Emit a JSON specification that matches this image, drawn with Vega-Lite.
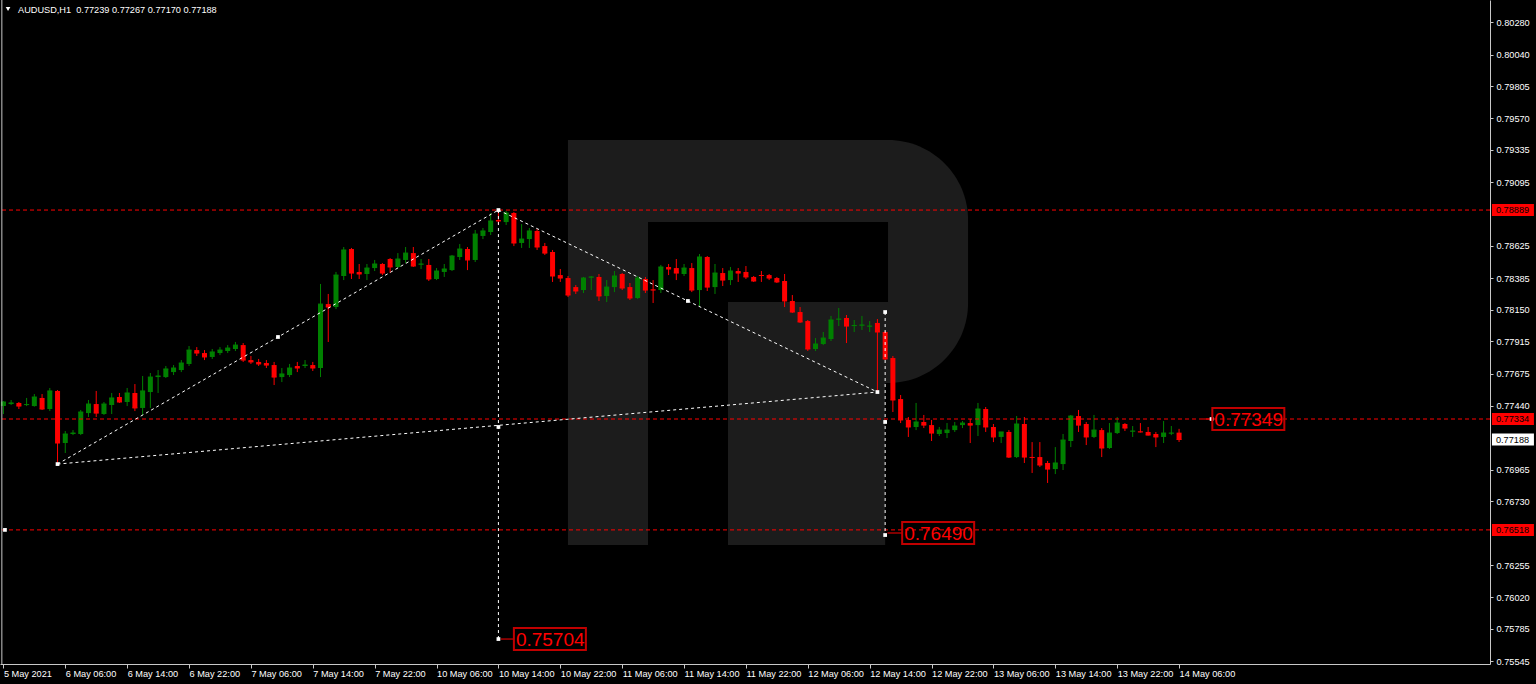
{
"$schema": "https://vega.github.io/schema/vega-lite/v6.json",
"width": 1490, "height": 664,
"autosize": {"type": "none"},
"padding": {"left": 0, "top": 0, "right": 46, "bottom": 20},
"background": "#000000",
"config": {"view": {"stroke": null}, "axis": {"grid": false}},
"resolve": {"axis": {"x": "independent", "y": "independent"}},
"datasets": {
"candles": [
{"i":0,"o":0.77436,"h":0.77473,"l":0.77377,"c":0.77466},
{"i":1,"o":0.77451,"h":0.77481,"l":0.77444,"c":0.77459},
{"i":2,"o":0.77459,"h":0.77466,"l":0.77414,"c":0.77436},
{"i":3,"o":0.77444,"h":0.77496,"l":0.77436,"c":0.77447},
{"i":4,"o":0.77436,"h":0.77525,"l":0.77432,"c":0.77503},
{"i":5,"o":0.77496,"h":0.77525,"l":0.77407,"c":0.77414},
{"i":6,"o":0.77414,"h":0.77570,"l":0.77399,"c":0.77548},
{"i":7,"o":0.77548,"h":0.77555,"l":0.77006,"c":0.77162},
{"i":8,"o":0.77162,"h":0.77251,"l":0.77088,"c":0.77229},
{"i":9,"o":0.77229,"h":0.77258,"l":0.77221,"c":0.77236},
{"i":10,"o":0.77229,"h":0.77407,"l":0.77221,"c":0.77392},
{"i":11,"o":0.77384,"h":0.77481,"l":0.77355,"c":0.77451},
{"i":12,"o":0.77451,"h":0.77548,"l":0.77355,"c":0.77384},
{"i":13,"o":0.77377,"h":0.77466,"l":0.77370,"c":0.77451},
{"i":14,"o":0.77444,"h":0.77533,"l":0.77377,"c":0.77496},
{"i":15,"o":0.77503,"h":0.77533,"l":0.77459,"c":0.77466},
{"i":16,"o":0.77466,"h":0.77570,"l":0.77436,"c":0.77533},
{"i":17,"o":0.77533,"h":0.77599,"l":0.77399,"c":0.77422},
{"i":18,"o":0.77422,"h":0.77659,"l":0.77370,"c":0.77548},
{"i":19,"o":0.77540,"h":0.77681,"l":0.77422,"c":0.77651},
{"i":20,"o":0.77651,"h":0.77703,"l":0.77533,"c":0.77659},
{"i":21,"o":0.77651,"h":0.77733,"l":0.77644,"c":0.77711},
{"i":22,"o":0.77688,"h":0.77740,"l":0.77666,"c":0.77718},
{"i":23,"o":0.77703,"h":0.77777,"l":0.77688,"c":0.77755},
{"i":24,"o":0.77748,"h":0.77881,"l":0.77733,"c":0.77851},
{"i":25,"o":0.77851,"h":0.77873,"l":0.77807,"c":0.77829},
{"i":26,"o":0.77829,"h":0.77851,"l":0.77777,"c":0.77800},
{"i":27,"o":0.77800,"h":0.77859,"l":0.77785,"c":0.77837},
{"i":28,"o":0.77829,"h":0.77873,"l":0.77814,"c":0.77851},
{"i":29,"o":0.77844,"h":0.77888,"l":0.77829,"c":0.77866},
{"i":30,"o":0.77859,"h":0.77911,"l":0.77844,"c":0.77888},
{"i":31,"o":0.77888,"h":0.77903,"l":0.77763,"c":0.77777},
{"i":32,"o":0.77777,"h":0.77807,"l":0.77748,"c":0.77763},
{"i":33,"o":0.77763,"h":0.77785,"l":0.77733,"c":0.77748},
{"i":34,"o":0.77755,"h":0.77777,"l":0.77718,"c":0.77740},
{"i":35,"o":0.77740,"h":0.77763,"l":0.77592,"c":0.77651},
{"i":36,"o":0.77651,"h":0.77718,"l":0.77614,"c":0.77674},
{"i":37,"o":0.77666,"h":0.77748,"l":0.77651,"c":0.77718},
{"i":38,"o":0.77733,"h":0.77763,"l":0.77688,"c":0.77718},
{"i":39,"o":0.77733,"h":0.77777,"l":0.77718,"c":0.77740},
{"i":40,"o":0.77740,"h":0.77763,"l":0.77696,"c":0.77718},
{"i":41,"o":0.77718,"h":0.78341,"l":0.77651,"c":0.78192},
{"i":42,"o":0.78192,"h":0.78267,"l":0.77911,"c":0.78170},
{"i":43,"o":0.78170,"h":0.78430,"l":0.78155,"c":0.78407},
{"i":44,"o":0.78400,"h":0.78615,"l":0.78370,"c":0.78593},
{"i":45,"o":0.78600,"h":0.78608,"l":0.78378,"c":0.78422},
{"i":46,"o":0.78430,"h":0.78489,"l":0.78378,"c":0.78415},
{"i":47,"o":0.78415,"h":0.78489,"l":0.78370,"c":0.78459},
{"i":48,"o":0.78459,"h":0.78519,"l":0.78437,"c":0.78489},
{"i":49,"o":0.78489,"h":0.78496,"l":0.78407,"c":0.78422},
{"i":50,"o":0.78526,"h":0.78533,"l":0.78422,"c":0.78467},
{"i":51,"o":0.78467,"h":0.78570,"l":0.78459,"c":0.78526},
{"i":52,"o":0.78519,"h":0.78615,"l":0.78496,"c":0.78570},
{"i":53,"o":0.78570,"h":0.78615,"l":0.78467,"c":0.78474},
{"i":54,"o":0.78485,"h":0.78526,"l":0.78452,"c":0.78489},
{"i":55,"o":0.78482,"h":0.78526,"l":0.78363,"c":0.78378},
{"i":56,"o":0.78378,"h":0.78459,"l":0.78370,"c":0.78437},
{"i":57,"o":0.78430,"h":0.78489,"l":0.78393,"c":0.78452},
{"i":58,"o":0.78444,"h":0.78556,"l":0.78437,"c":0.78548},
{"i":59,"o":0.78541,"h":0.78637,"l":0.78519,"c":0.78600},
{"i":60,"o":0.78600,"h":0.78615,"l":0.78444,"c":0.78519},
{"i":61,"o":0.78519,"h":0.78741,"l":0.78504,"c":0.78711},
{"i":62,"o":0.78697,"h":0.78756,"l":0.78674,"c":0.78734},
{"i":63,"o":0.78726,"h":0.78867,"l":0.78704,"c":0.78808},
{"i":64,"o":0.78815,"h":0.78889,"l":0.78785,"c":0.78808},
{"i":65,"o":0.78800,"h":0.78882,"l":0.78778,"c":0.78867},
{"i":66,"o":0.78867,"h":0.78874,"l":0.78622,"c":0.78645},
{"i":67,"o":0.78645,"h":0.78785,"l":0.78608,"c":0.78674},
{"i":68,"o":0.78674,"h":0.78756,"l":0.78608,"c":0.78734},
{"i":69,"o":0.78734,"h":0.78748,"l":0.78593,"c":0.78615},
{"i":70,"o":0.78622,"h":0.78645,"l":0.78556,"c":0.78570},
{"i":71,"o":0.78578,"h":0.78593,"l":0.78356,"c":0.78400},
{"i":72,"o":0.78407,"h":0.78452,"l":0.78356,"c":0.78385},
{"i":73,"o":0.78385,"h":0.78400,"l":0.78244,"c":0.78259},
{"i":74,"o":0.78318,"h":0.78333,"l":0.78267,"c":0.78289},
{"i":75,"o":0.78296,"h":0.78393,"l":0.78274,"c":0.78385},
{"i":76,"o":0.78389,"h":0.78400,"l":0.78296,"c":0.78393},
{"i":77,"o":0.78393,"h":0.78415,"l":0.78215,"c":0.78252},
{"i":78,"o":0.78252,"h":0.78370,"l":0.78207,"c":0.78318},
{"i":79,"o":0.78318,"h":0.78437,"l":0.78281,"c":0.78400},
{"i":80,"o":0.78415,"h":0.78422,"l":0.78296,"c":0.78311},
{"i":81,"o":0.78318,"h":0.78348,"l":0.78222,"c":0.78237},
{"i":82,"o":0.78237,"h":0.78400,"l":0.78230,"c":0.78385},
{"i":83,"o":0.78378,"h":0.78393,"l":0.78274,"c":0.78296},
{"i":84,"o":0.78300,"h":0.78370,"l":0.78200,"c":0.78296},
{"i":85,"o":0.78296,"h":0.78482,"l":0.78274,"c":0.78467},
{"i":86,"o":0.78467,"h":0.78489,"l":0.78407,"c":0.78452},
{"i":87,"o":0.78459,"h":0.78526,"l":0.78370,"c":0.78422},
{"i":88,"o":0.78415,"h":0.78489,"l":0.78400,"c":0.78459},
{"i":89,"o":0.78459,"h":0.78496,"l":0.78281,"c":0.78296},
{"i":90,"o":0.78296,"h":0.78563,"l":0.78178,"c":0.78541},
{"i":91,"o":0.78541,"h":0.78548,"l":0.78289,"c":0.78318},
{"i":92,"o":0.78318,"h":0.78489,"l":0.78267,"c":0.78422},
{"i":93,"o":0.78422,"h":0.78459,"l":0.78326,"c":0.78370},
{"i":94,"o":0.78370,"h":0.78467,"l":0.78333,"c":0.78437},
{"i":95,"o":0.78437,"h":0.78459,"l":0.78356,"c":0.78422},
{"i":96,"o":0.78430,"h":0.78474,"l":0.78378,"c":0.78393},
{"i":97,"o":0.78393,"h":0.78400,"l":0.78356,"c":0.78363},
{"i":98,"o":0.78407,"h":0.78437,"l":0.78356,"c":0.78404},
{"i":99,"o":0.78407,"h":0.78415,"l":0.78370,"c":0.78385},
{"i":100,"o":0.78385,"h":0.78393,"l":0.78348,"c":0.78356},
{"i":101,"o":0.78363,"h":0.78415,"l":0.78170,"c":0.78215},
{"i":102,"o":0.78215,"h":0.78259,"l":0.78126,"c":0.78133},
{"i":103,"o":0.78133,"h":0.78170,"l":0.78052,"c":0.78059},
{"i":104,"o":0.78066,"h":0.78074,"l":0.77844,"c":0.77859},
{"i":105,"o":0.77859,"h":0.77940,"l":0.77844,"c":0.77896},
{"i":106,"o":0.77896,"h":0.77985,"l":0.77888,"c":0.77940},
{"i":107,"o":0.77933,"h":0.78104,"l":0.77918,"c":0.78074},
{"i":108,"o":0.78078,"h":0.78163,"l":0.78029,"c":0.78081},
{"i":109,"o":0.78089,"h":0.78111,"l":0.77903,"c":0.78029},
{"i":110,"o":0.78029,"h":0.78074,"l":0.77985,"c":0.78033},
{"i":111,"o":0.78033,"h":0.78104,"l":0.78000,"c":0.78037},
{"i":112,"o":0.78026,"h":0.78066,"l":0.77985,"c":0.78029},
{"i":113,"o":0.78052,"h":0.78081,"l":0.77540,"c":0.77985},
{"i":114,"o":0.77985,"h":0.77992,"l":0.77777,"c":0.77785},
{"i":115,"o":0.77792,"h":0.77807,"l":0.77392,"c":0.77481},
{"i":116,"o":0.77488,"h":0.77518,"l":0.77310,"c":0.77333},
{"i":117,"o":0.77333,"h":0.77355,"l":0.77207,"c":0.77281},
{"i":118,"o":0.77281,"h":0.77459,"l":0.77258,"c":0.77318},
{"i":119,"o":0.77318,"h":0.77370,"l":0.77273,"c":0.77295},
{"i":120,"o":0.77295,"h":0.77333,"l":0.77177,"c":0.77236},
{"i":121,"o":0.77229,"h":0.77281,"l":0.77214,"c":0.77258},
{"i":122,"o":0.77236,"h":0.77310,"l":0.77199,"c":0.77258},
{"i":123,"o":0.77258,"h":0.77318,"l":0.77244,"c":0.77288},
{"i":124,"o":0.77295,"h":0.77325,"l":0.77273,"c":0.77310},
{"i":125,"o":0.77310,"h":0.77340,"l":0.77162,"c":0.77295},
{"i":126,"o":0.77295,"h":0.77459,"l":0.77214,"c":0.77414},
{"i":127,"o":0.77414,"h":0.77429,"l":0.77244,"c":0.77281},
{"i":128,"o":0.77281,"h":0.77303,"l":0.77169,"c":0.77207},
{"i":129,"o":0.77207,"h":0.77244,"l":0.77162,"c":0.77244},
{"i":130,"o":0.77244,"h":0.77258,"l":0.77051,"c":0.77058},
{"i":131,"o":0.77058,"h":0.77362,"l":0.77051,"c":0.77303},
{"i":132,"o":0.77303,"h":0.77355,"l":0.77014,"c":0.77058},
{"i":133,"o":0.77058,"h":0.77169,"l":0.76940,"c":0.77055},
{"i":134,"o":0.77058,"h":0.77169,"l":0.76984,"c":0.76999},
{"i":135,"o":0.77014,"h":0.77029,"l":0.76866,"c":0.76969},
{"i":136,"o":0.76969,"h":0.77132,"l":0.76932,"c":0.77014},
{"i":137,"o":0.77006,"h":0.77229,"l":0.76962,"c":0.77184},
{"i":138,"o":0.77177,"h":0.77370,"l":0.77132,"c":0.77362},
{"i":139,"o":0.77362,"h":0.77407,"l":0.77244,"c":0.77295},
{"i":140,"o":0.77303,"h":0.77318,"l":0.77147,"c":0.77207},
{"i":141,"o":0.77207,"h":0.77370,"l":0.77199,"c":0.77258},
{"i":142,"o":0.77258,"h":0.77273,"l":0.77058,"c":0.77125},
{"i":143,"o":0.77125,"h":0.77310,"l":0.77118,"c":0.77236},
{"i":144,"o":0.77236,"h":0.77355,"l":0.77229,"c":0.77310},
{"i":145,"o":0.77303,"h":0.77310,"l":0.77251,"c":0.77273},
{"i":146,"o":0.77247,"h":0.77288,"l":0.77207,"c":0.77251},
{"i":147,"o":0.77247,"h":0.77310,"l":0.77240,"c":0.77244},
{"i":148,"o":0.77244,"h":0.77281,"l":0.77218,"c":0.77221},
{"i":149,"o":0.77229,"h":0.77244,"l":0.77132,"c":0.77207},
{"i":150,"o":0.77207,"h":0.77325,"l":0.77162,"c":0.77236},
{"i":151,"o":0.77233,"h":0.77288,"l":0.77221,"c":0.77236},
{"i":152,"o":0.77239,"h":0.77267,"l":0.77170,"c":0.77188}
],
"wmBowl": [{"i0":72.99,"i1":124.72,"p0":0.77607,"p1":0.79408}],
"wmGray": [{"i0":72.99,"i1":83.34,"p0":0.76406,"p1":0.77607},{"i0":93.68,"i1":114.0,"p0":0.76406,"p1":0.77607}],
"wmBlack": [{"i0":83.34,"i1":114.37,"p0":0.78207,"p1":0.78800},{"i0":83.34,"i1":93.68,"p0":0.77607,"p1":0.78207}],
"hlines": [{"p":0.78889},{"p":0.77340},{"p":0.76518}],
"zz": [
{"a":7,"pa":0.77006,"b":64,"pb":0.78889},
{"a":7,"pa":0.77006,"b":113,"pb":0.77540},
{"a":64,"pa":0.78889,"b":113,"pb":0.77540},
{"a":64,"pa":0.78889,"b":64,"pb":0.75709},
{"a":114,"pa":0.78133,"b":114,"pb":0.76480}
],
"markers": [
{"i":7,"p":0.77006},{"i":64,"p":0.78889},{"i":113,"p":0.77540},{"i":35.5,"p":0.77948},
{"i":64,"p":0.77281},{"i":88.5,"p":0.78215},{"i":114,"p":0.78133},{"i":114,"p":0.77318},
{"i":114,"p":0.76480},{"i":64,"p":0.75709},{"i":156.2,"p":0.77340},{"i":0.2,"p":0.76518}
],
"labels": [
{"i":66.0,"i0":64.3,"p":0.75709,"t":"0.75704"},
{"i":116.2,"i0":114.3,"p":0.76495,"t":"0.76490"},
{"i":156.3,"i0":155.1,"p":0.77340,"t":"0.77349"}
],
"axisboxes": [
{"p":0.78889,"t":"0.78889","k":"r"},
{"p":0.77340,"t":"0.77334","k":"r"},
{"p":0.76518,"t":"0.76518","k":"r"},
{"p":0.77188,"t":"0.77188","k":"w"}
],
"title": [{"t":"AUDUSD,H1\u00a0\u00a00.77239 0.77267 0.77170 0.77188"}]
},
"layer": [
{
"data": {"name": "wmBowl"},
"mark": {"type": "rect", "color": "#1c1c1c", "cornerRadiusTopRight": 80, "cornerRadiusBottomRight": 80},
"encoding": {
"x": {"field": "i0", "type": "quantitative", "scale": {"domain": [-0.44, 192.2], "nice": false, "zero": false, "padding": 0}, "axis": null},
"x2": {"field": "i1"},
"y": {"field": "p0", "type": "quantitative", "scale": {"domain": [0.75524, 0.80446], "nice": false, "zero": false, "padding": 0}, "axis": null},
"y2": {"field": "p1"}
}
},
{
"data": {"name": "wmGray"},
"mark": {"type": "rect", "color": "#1c1c1c"},
"encoding": {
"x": {"field": "i0", "type": "quantitative", "scale": {"domain": [-0.44, 192.2], "nice": false, "zero": false, "padding": 0}, "axis": null},
"x2": {"field": "i1"},
"y": {"field": "p0", "type": "quantitative", "scale": {"domain": [0.75524, 0.80446], "nice": false, "zero": false, "padding": 0}, "axis": null},
"y2": {"field": "p1"}
}
},
{
"data": {"name": "wmBlack"},
"mark": {"type": "rect", "color": "#000000"},
"encoding": {
"x": {"field": "i0", "type": "quantitative", "scale": {"domain": [-0.44, 192.2], "nice": false, "zero": false, "padding": 0}, "axis": null},
"x2": {"field": "i1"},
"y": {"field": "p0", "type": "quantitative", "scale": {"domain": [0.75524, 0.80446], "nice": false, "zero": false, "padding": 0}, "axis": null},
"y2": {"field": "p1"}
}
},
{
"data": {"name": "candles"},
"mark": {"type": "rule", "strokeWidth": 1},
"encoding": {
"x": {"field": "i", "type": "quantitative", "scale": {"domain": [-0.44, 192.2], "nice": false, "zero": false, "padding": 0},
 "axis": {"orient": "bottom", "title": null, "grid": false, "values": [0,8,16,24,32,40,48,56,64,72,80,88,96,104,112,120,128,136,144,152],
 "labelExpr": "['5 May 2021','6 May 06:00','6 May 14:00','6 May 22:00','7 May 06:00','7 May 14:00','7 May 22:00','10 May 06:00','10 May 14:00','10 May 22:00','11 May 06:00','11 May 14:00','11 May 22:00','12 May 06:00','12 May 14:00','12 May 22:00','13 May 06:00','13 May 14:00','13 May 22:00','14 May 06:00'][round(datum.value/8)]",
 "domainColor": "#c8c8c8", "tickColor": "#c8c8c8", "tickSize": 4, "labelColor": "#ffffff", "labelFont": "Liberation Sans", "labelFontSize": 9.2,
 "labelAlign": "left", "labelDx": -1, "labelPadding": 1, "labelBaseline": "top", "labelOverlap": false, "labelBound": false, "labelFlush": false}},
"y": {"field": "l", "type": "quantitative", "scale": {"domain": [0.75524, 0.80446], "nice": false, "zero": false, "padding": 0},
 "axis": {"orient": "right", "title": null, "grid": false, "format": ".5f",
 "values": [0.80280,0.80040,0.79805,0.79570,0.79335,0.79095,0.78625,0.78385,0.78150,0.77915,0.77675,0.77440,0.76965,0.76730,0.76255,0.76020,0.75785,0.75545],
 "domainColor": "#c8c8c8", "tickColor": "#c8c8c8", "tickSize": 3, "labelColor": "#ffffff", "labelFont": "Liberation Sans", "labelFontSize": 9.2,
 "labelAlign": "left", "labelPadding": 3, "labelBaseline": "middle", "labelOverlap": false, "labelFlush": false}},
"y2": {"field": "h"},
"color": {"condition": {"test": "datum.c >= datum.o", "value": "#008000"}, "value": "#ff0000"}
}
},
{
"data": {"name": "candles"},
"mark": {"type": "bar", "size": 5},
"encoding": {
"x": {"field": "i", "type": "quantitative", "scale": {"domain": [-0.44, 192.2], "nice": false, "zero": false, "padding": 0}, "axis": null},
"y": {"field": "o", "type": "quantitative", "scale": {"domain": [0.75524, 0.80446], "nice": false, "zero": false, "padding": 0}, "axis": null},
"y2": {"field": "c"},
"color": {"condition": {"test": "datum.c >= datum.o", "value": "#008000"}, "value": "#ff0000"}
}
},
{
"data": {"name": "candles"},
"mark": {"type": "tick", "orient": "horizontal", "size": 5, "thickness": 1, "opacity": 1},
"encoding": {
"x": {"field": "i", "type": "quantitative", "scale": {"domain": [-0.44, 192.2], "nice": false, "zero": false, "padding": 0}, "axis": null},
"y": {"field": "c", "type": "quantitative", "scale": {"domain": [0.75524, 0.80446], "nice": false, "zero": false, "padding": 0}, "axis": null},
"color": {"condition": {"test": "datum.c >= datum.o", "value": "#008000"}, "value": "#ff0000"}
}
},
{
"data": {"name": "hlines"},
"mark": {"type": "rule", "color": "#ff0000", "strokeWidth": 1, "strokeDash": [4, 3]},
"encoding": {
"y": {"field": "p", "type": "quantitative", "scale": {"domain": [0.75524, 0.80446], "nice": false, "zero": false, "padding": 0}, "axis": null}
}
},
{
"data": {"name": "zz"},
"mark": {"type": "rule", "color": "#ffffff", "strokeWidth": 1, "strokeDash": [3, 3]},
"encoding": {
"x": {"field": "a", "type": "quantitative", "scale": {"domain": [-0.44, 192.2], "nice": false, "zero": false, "padding": 0}, "axis": null},
"x2": {"field": "b"},
"y": {"field": "pa", "type": "quantitative", "scale": {"domain": [0.75524, 0.80446], "nice": false, "zero": false, "padding": 0}, "axis": null},
"y2": {"field": "pb"}
}
},
{
"data": {"name": "labels"},
"mark": {"type": "rule", "color": "#ff0000", "strokeWidth": 1},
"encoding": {
"x": {"field": "i0", "type": "quantitative", "scale": {"domain": [-0.44, 192.2], "nice": false, "zero": false, "padding": 0}, "axis": null},
"x2": {"field": "i"},
"y": {"field": "p", "type": "quantitative", "scale": {"domain": [0.75524, 0.80446], "nice": false, "zero": false, "padding": 0}, "axis": null}
}
},
{
"data": {"name": "markers"},
"mark": {"type": "point", "shape": "square", "size": 14, "filled": true, "color": "#ffffff", "opacity": 1},
"encoding": {
"x": {"field": "i", "type": "quantitative", "scale": {"domain": [-0.44, 192.2], "nice": false, "zero": false, "padding": 0}, "axis": null},
"y": {"field": "p", "type": "quantitative", "scale": {"domain": [0.75524, 0.80446], "nice": false, "zero": false, "padding": 0}, "axis": null}
}
},
{
"data": {"name": "labels"},
"mark": {"type": "point", "shape": "M0,-0.3056H2V0.3056H0Z", "size": 5184, "filled": false, "color": "#c00000", "strokeWidth": 2, "opacity": 1},
"encoding": {
"x": {"field": "i", "type": "quantitative", "scale": {"domain": [-0.44, 192.2], "nice": false, "zero": false, "padding": 0}, "axis": null},
"y": {"field": "p", "type": "quantitative", "scale": {"domain": [0.75524, 0.80446], "nice": false, "zero": false, "padding": 0}, "axis": null}
}
},
{
"data": {"name": "labels"},
"mark": {"type": "text", "align": "left", "baseline": "middle", "dx": 2, "dy": 1, "font": "Liberation Sans", "fontSize": 19, "color": "#ff0000"},
"encoding": {
"x": {"field": "i", "type": "quantitative", "scale": {"domain": [-0.44, 192.2], "nice": false, "zero": false, "padding": 0}, "axis": null},
"y": {"field": "p", "type": "quantitative", "scale": {"domain": [0.75524, 0.80446], "nice": false, "zero": false, "padding": 0}, "axis": null},
"text": {"field": "t"}
}
},
{
"data": {"name": "axisboxes"},
"mark": {"type": "point", "shape": "M0,-0.2857H2V0.2857H0Z", "size": 1764, "filled": true, "opacity": 1, "strokeWidth": 0},
"encoding": {
"x": {"datum": 192.45, "type": "quantitative", "scale": {"domain": [-0.44, 192.2], "nice": false, "zero": false, "padding": 0}, "axis": null},
"y": {"field": "p", "type": "quantitative", "scale": {"domain": [0.75524, 0.80446], "nice": false, "zero": false, "padding": 0}, "axis": null},
"color": {"condition": {"test": "datum.k == 'w'", "value": "#ffffff"}, "value": "#ff0000"}
}
},
{
"data": {"name": "axisboxes"},
"mark": {"type": "text", "align": "left", "baseline": "middle", "dx": 4, "font": "Liberation Sans", "fontSize": 9.2, "color": "#000000"},
"encoding": {
"x": {"datum": 192.45, "type": "quantitative", "scale": {"domain": [-0.44, 192.2], "nice": false, "zero": false, "padding": 0}, "axis": null},
"y": {"field": "p", "type": "quantitative", "scale": {"domain": [0.75524, 0.80446], "nice": false, "zero": false, "padding": 0}, "axis": null},
"text": {"field": "t"}
}
},
{
"data": {"name": "title"},
"mark": {"type": "text", "align": "left", "baseline": "middle", "font": "Liberation Sans", "fontSize": 9.2, "color": "#ffffff"},
"encoding": {
"x": {"datum": 1.89, "type": "quantitative", "scale": {"domain": [-0.44, 192.2], "nice": false, "zero": false, "padding": 0}, "axis": null},
"y": {"datum": 0.80372, "type": "quantitative", "scale": {"domain": [0.75524, 0.80446], "nice": false, "zero": false, "padding": 0}, "axis": null},
"text": {"field": "t"}
}
},
{
"data": {"name": "title"},
"mark": {"type": "point", "shape": "triangle-down", "size": 22, "filled": true, "color": "#ffffff", "opacity": 1},
"encoding": {
"x": {"datum": 0.6, "type": "quantitative", "scale": {"domain": [-0.44, 192.2], "nice": false, "zero": false, "padding": 0}, "axis": null},
"y": {"datum": 0.80379, "type": "quantitative", "scale": {"domain": [0.75524, 0.80446], "nice": false, "zero": false, "padding": 0}, "axis": null}
}
},
{
"data": {"name": "title"},
"mark": {"type": "rule", "color": "#c8c8c8", "strokeWidth": 1},
"encoding": {
"x": {"datum": -0.2, "type": "quantitative", "scale": {"domain": [-0.44, 192.2], "nice": false, "zero": false, "padding": 0}, "axis": null}
}
}
]
}
